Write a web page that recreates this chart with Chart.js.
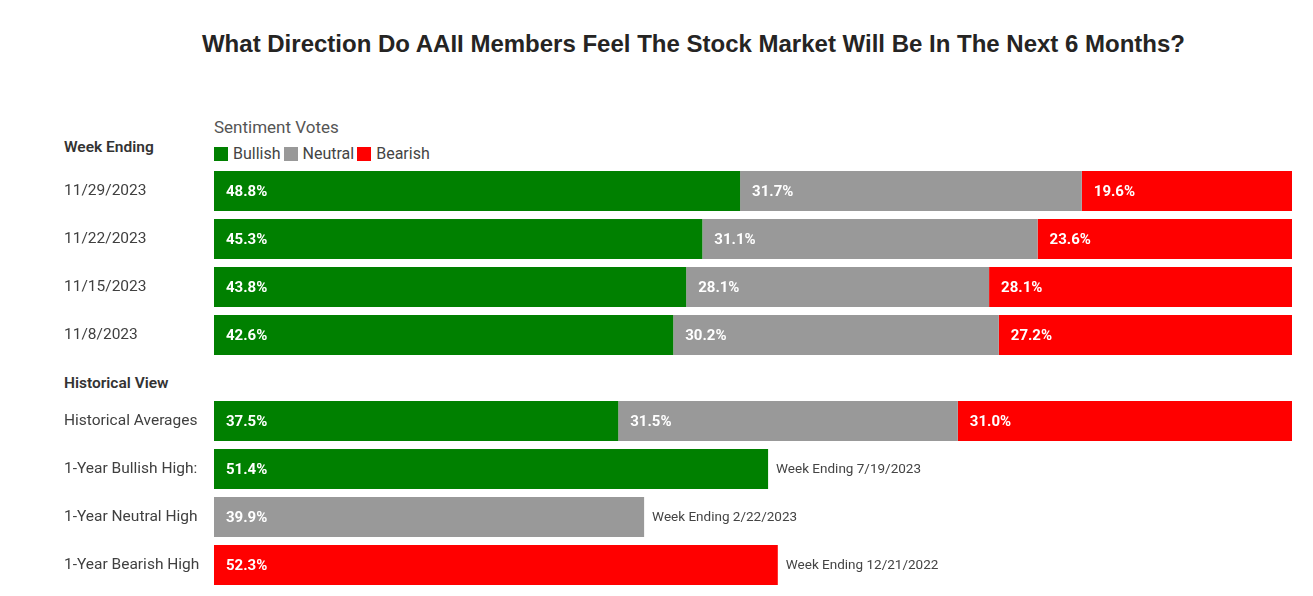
<!DOCTYPE html>
<html>
<head>
<meta charset="utf-8">
<script src="https://cdn.jsdelivr.net/npm/chart.js@4.4.0/dist/chart.umd.min.js"></script>
<style>
body{margin:0;background:#fff;font-family:Roboto,sans-serif;}
#wrap{position:relative;width:1313px;height:596px;overflow:hidden;}
#title{position:absolute;left:0;width:1387px;top:30px;text-align:center;font:bold 24px "Liberation Sans",Arial,sans-serif;color:#252423;white-space:nowrap;}
.hdr{position:absolute;left:64px;font:600 15.5px Roboto,sans-serif;color:#333;}
#legTitle{position:absolute;left:214px;top:117px;font:17px Roboto,sans-serif;color:#555;}
#legend{position:absolute;left:214px;top:144px;font:16px Roboto,sans-serif;color:#444;display:flex;align-items:center;}
#legend span.box{display:inline-block;width:14px;height:14px;margin-right:5px;}
#legend span.txt{margin-right:3px;}
canvas{position:absolute;left:64px;}
</style>
</head>
<body>
<div id="wrap">
  <div id="title">What Direction Do AAII Members Feel The Stock Market Will Be In The Next 6 Months?</div>
  <div id="legTitle">Sentiment Votes</div>
  <div id="legend"></div>
  <div class="hdr" style="top:138px">Week Ending</div>
  <div class="hdr" style="top:374px">Historical View</div>
  <canvas id="top" width="1228" height="192" style="top:167px"></canvas>
  <canvas id="bottom" width="1228" height="192" style="top:397px"></canvas>
</div>
<script>
const weeks = ["11/29/2023","11/22/2023","11/15/2023","11/8/2023"];
const weekBullish = [48.8,45.3,43.8,42.6];
const weekNeutral = [31.7,31.1,28.1,30.2];
const weekBearish = [19.6,23.6,28.1,27.2];

const histLabels = ["Historical Averages","1-Year Bullish High:","1-Year Neutral High","1-Year Bearish High"];
const histBullish = [37.5,51.4,null,null];
const histNeutral = [31.5,null,39.9,null];
const histBearish = [31.0,null,null,52.3];
const histNotes = ["","Week Ending 7/19/2023","Week Ending 2/22/2023","Week Ending 12/21/2022"];

const seriesNames = ["Bullish","Neutral","Bearish"];
const colors = ["#008000","#999999","#ff0000"];

document.getElementById("legend").innerHTML = seriesNames.map((n,i)=>
  `<span class="box" style="background:${colors[i]}"></span><span class="txt">${n}</span>`).join("");

// white value labels inside the bars + note text after last bar
const labelPlugin = {
  id:"labels",
  afterDatasetsDraw(chart){
    const ctx = chart.ctx;
    ctx.save();
    ctx.textBaseline = "middle";
    chart.data.datasets.forEach((ds,di)=>{
      chart.getDatasetMeta(di).data.forEach((bar,i)=>{
        const v = ds.data[i];
        if(v==null) return;
        ctx.font = "bold 15px Roboto, sans-serif";
        ctx.fillStyle = "#fff";
        ctx.textAlign = "left";
        ctx.fillText(v.toFixed(1)+"%", bar.base+12, bar.y+1);
      });
    });
    const notes = chart.options.plugins.labels.notes;
    if(notes){
      notes.forEach((n,i)=>{
        if(!n) return;
        let end = 0;
        chart.data.datasets.forEach((ds,di)=>{
          if(ds.data[i]!=null) end = Math.max(end, chart.getDatasetMeta(di).data[i].x);
        });
        ctx.font = "13.5px Roboto, sans-serif";
        ctx.fillStyle = "#444";
        ctx.fillText(n, end+8, chart.getDatasetMeta(0).data[i].y+1);
      });
    }
    ctx.restore();
  }
};

function makeChart(id, labels, b, n, r, notes){
  return new Chart(document.getElementById(id),{
    type:"bar",
    data:{labels:labels,datasets:[
      {label:"Bullish",data:b,backgroundColor:colors[0]},
      {label:"Neutral",data:n,backgroundColor:colors[1]},
      {label:"Bearish",data:r,backgroundColor:colors[2]}
    ]},
    options:{
      indexAxis:"y",
      responsive:false,
      animation:false,
      layout:{padding:0},
      categoryPercentage:1,
      barPercentage:40/48,
      scales:{
        x:{stacked:true,min:0,max:100,display:false},
        y:{stacked:true,grid:{display:false},border:{display:false},
           afterFit(s){s.width=150;s.paddingTop=0;s.paddingBottom=0;},
           ticks:{crossAlign:"far",padding:0,color:"#404040",font:{family:"Roboto",size:15.5}}}
      },
      plugins:{legend:{display:false},tooltip:{enabled:false},labels:{notes:notes}}
    },
    plugins:[labelPlugin]
  });
}

makeChart("top", weeks, weekBullish, weekNeutral, weekBearish, null);
makeChart("bottom", histLabels, histBullish, histNeutral, histBearish, histNotes);
</script>
</body>
</html>
